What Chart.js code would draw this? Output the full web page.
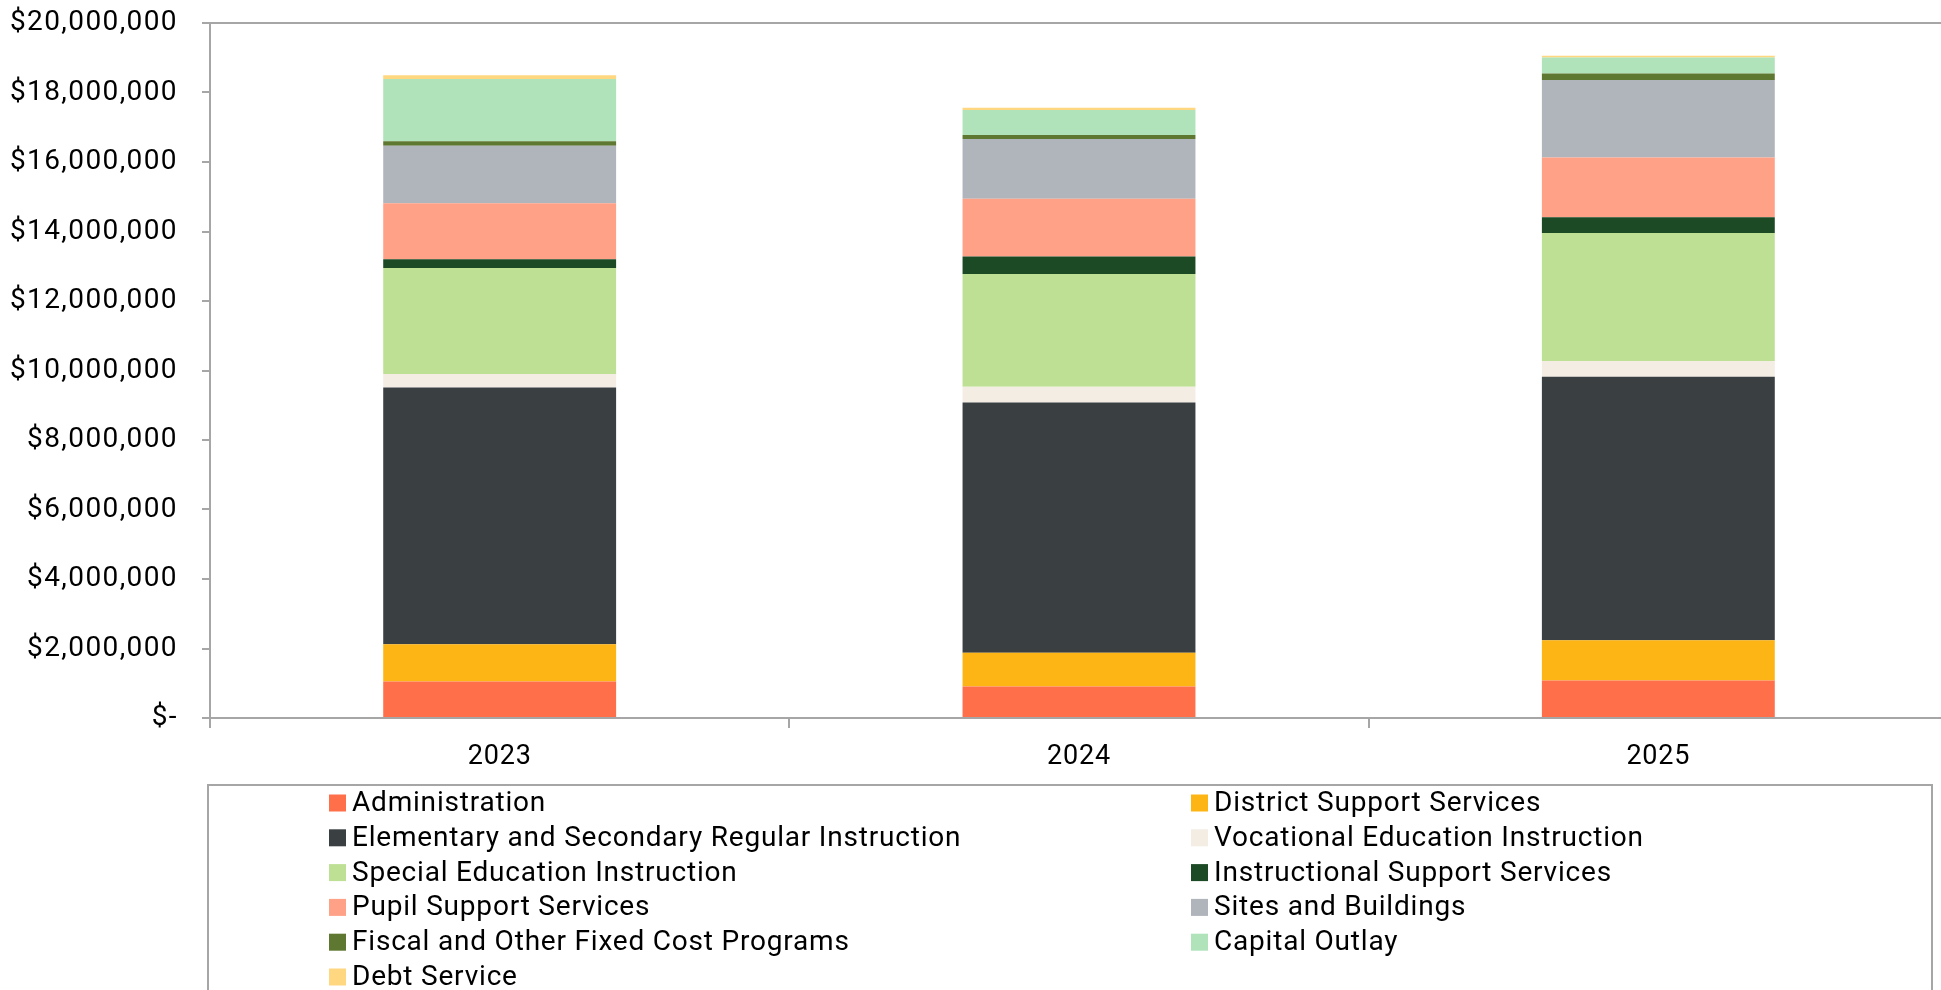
<!DOCTYPE html>
<html lang="en">
<head>
    <meta charset="UTF-8">
    <title>Expenditures by Program</title>
    <script src="https://cdn.jsdelivr.net/npm/chart.js"></script>
    <style>
        body { margin: 0; background: #fff; overflow: hidden; }
        #wrap { width: 1948px; height: 990px; }
    </style>
</head>
<body>
    <div id="wrap">
        <canvas id="programChart" width="1948" height="990"></canvas>
    </div>

    <script>
        const years = ['2023', '2024', '2025'];

        const administration       = [1050000, 910000, 1080000];
        const districtSupport      = [1070000, 970000, 1160000];
        const elementarySecondary  = [7390000, 7200000, 7580000];
        const vocationalEducation  = [390000, 450000, 450000];
        const specialEducation     = [3050000, 3250000, 3690000];
        const instructionalSupport = [250000, 500000, 450000];
        const pupilSupport         = [1610000, 1660000, 1720000];
        const sitesBuildings       = [1660000, 1720000, 2230000];
        const fiscalFixedCost      = [125000, 120000, 190000];
        const capitalOutlay        = [1790000, 720000, 460000];
        const debtService          = [110000, 60000, 50000];

        const yTicksMax = 20000000;
        const yTicksStep = 2000000;

        const axisGray = '#A6A6A6';

        // stacked bottom to top
        const series = [
            { label: 'Administration', data: administration, color: '#FF6F4A' },
            { label: 'District Support Services', data: districtSupport, color: '#FDB515' },
            { label: 'Elementary and Secondary Regular Instruction', data: elementarySecondary, color: '#3A3F42' },
            { label: 'Vocational Education Instruction', data: vocationalEducation, color: '#F3EDE3' },
            { label: 'Special Education Instruction', data: specialEducation, color: '#BDE095' },
            { label: 'Instructional Support Services', data: instructionalSupport, color: '#1C4A24' },
            { label: 'Pupil Support Services', data: pupilSupport, color: '#FFA187' },
            { label: 'Sites and Buildings', data: sitesBuildings, color: '#B0B4BB' },
            { label: 'Fiscal and Other Fixed Cost Programs', data: fiscalFixedCost, color: '#5E7731' },
            { label: 'Capital Outlay', data: capitalOutlay, color: '#B0E3BA' },
            { label: 'Debt Service', data: debtService, color: '#FFD780' }
        ];

        // looser text spacing; the money labels get a bit more
        const looseText = {
            id: 'looseText',
            beforeDraw(chart) {
                chart.ctx.letterSpacing = '0.8px';
                const y = chart.scales.y;
                if (!y._spaced) {
                    const draw = y.drawLabels.bind(y);
                    y.drawLabels = area => {
                        chart.ctx.letterSpacing = '1.4px';
                        draw(area);
                        chart.ctx.letterSpacing = '0.8px';
                    };
                    y._spaced = true;
                }
            }
        };

        // two-column legend in a bordered box under the axis
        const boxedLegend = {
            id: 'boxedLegend',
            afterDraw(chart) {
                const ctx = chart.ctx;
                ctx.save();
                ctx.strokeStyle = axisGray;
                ctx.lineWidth = 2;
                ctx.strokeRect(208, 785, 1724, 240);
                ctx.font = '28px Roboto';
                ctx.letterSpacing = '0.8px';
                ctx.textBaseline = 'middle';
                ctx.textAlign = 'left';
                chart.data.datasets.forEach((ds, i) => {
                    const x = (i % 2 === 0) ? 329 : 1191;
                    const y = 803 + Math.floor(i / 2) * 34.8;
                    ctx.fillStyle = ds.backgroundColor;
                    ctx.fillRect(x, y - 8.5, 17, 17);
                    ctx.fillStyle = '#000';
                    ctx.fillText(ds.label, x + 23, y + 1);
                });
                ctx.restore();
            }
        };

        Chart.defaults.font.family = 'Roboto';

        const ctx = document.getElementById('programChart').getContext('2d');
        new Chart(ctx, {
            type: 'bar',
            data: {
                labels: years,
                datasets: series.map(s => ({
                    label: s.label,
                    data: s.data,
                    backgroundColor: s.color,
                    borderWidth: 0,
                    categoryPercentage: 1,
                    barPercentage: 0.402
                }))
            },
            options: {
                responsive: false,
                animation: false,
                layout: { padding: { top: 23, right: 0, bottom: 0, left: 0 } },
                plugins: {
                    legend: { display: false },
                    tooltip: { enabled: false }
                },
                scales: {
                    x: {
                        stacked: true,
                        grid: {
                            offset: true,
                            drawOnChartArea: false,
                            drawTicks: true,
                            tickLength: 10,
                            tickColor: axisGray,
                            tickWidth: 2,
                            lineWidth: 2
                        },
                        border: { color: axisGray, width: 2 },
                        ticks: { font: { size: 27 }, color: '#000', padding: 13 },
                        afterFit(scale) {
                            scale.height = 272;
                            scale.paddingLeft = 0;
                            scale.paddingRight = 0;
                        }
                    },
                    y: {
                        stacked: true,
                        min: 0,
                        max: yTicksMax,
                        grid: {
                            color: c => (c.tick && c.tick.value === yTicksMax) ? axisGray : 'rgba(0,0,0,0)',
                            lineWidth: 2,
                            tickLength: 8,
                            tickColor: axisGray,
                            tickWidth: 2
                        },
                        border: { color: axisGray, width: 2 },
                        ticks: {
                            stepSize: yTicksStep,
                            font: { size: 28 },
                            color: '#000',
                            padding: 24,
                            callback: v => v === 0 ? '$-' : '$' + v.toLocaleString('en-US')
                        },
                        afterFit(scale) {
                            scale.width = 210;
                            scale.paddingTop = 0;
                            scale.paddingBottom = 0;
                        }
                    }
                }
            },
            plugins: [looseText, boxedLegend]
        });
    </script>
</body>
</html>
